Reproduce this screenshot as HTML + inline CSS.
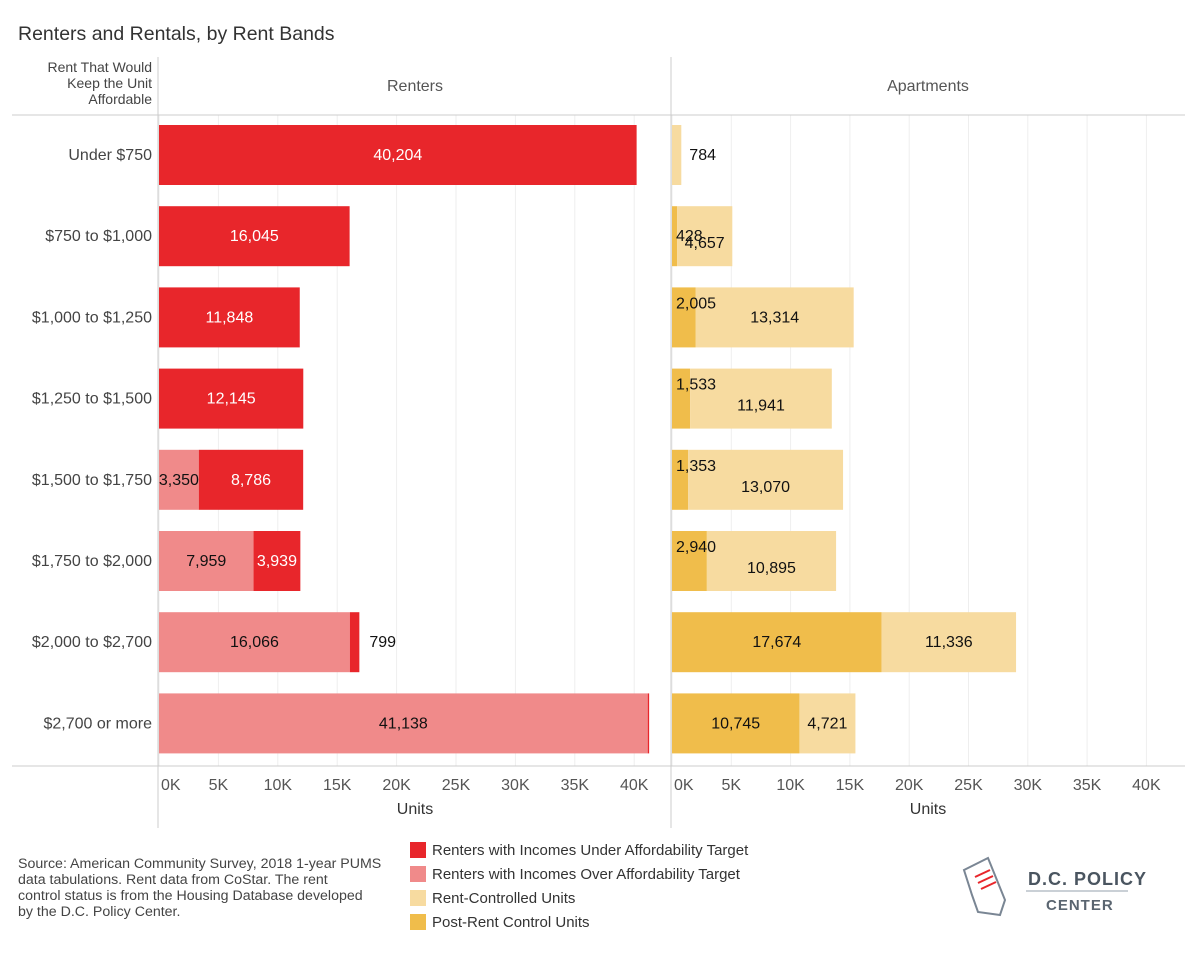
<!DOCTYPE html>
<html><head><meta charset="utf-8"><style>
body{margin:0;background:#fff;font-family:"Liberation Sans",sans-serif;}
svg text{font-family:"Liberation Sans",sans-serif;}
</style></head><body>
<svg id="c" width="1200" height="960" xmlns="http://www.w3.org/2000/svg">
<text x="18" y="40" font-size="19.5" fill="#333">Renters and Rentals, by Rent Bands</text>
<g id="grid"></g>
<g id="bars"></g>
<g id="labels"></g>
<g id="frame" stroke="#ccc" fill="none">
<line x1="158" y1="57" x2="158" y2="828"/><line x1="671" y1="57" x2="671" y2="828"/>
<line x1="12" y1="115" x2="1185" y2="115"/><line x1="12" y1="766" x2="1185" y2="766"/>
</g>
<text x="152" y="72" font-size="14" fill="#444" text-anchor="end"><tspan x="152">Rent That Would</tspan><tspan x="152" dy="16">Keep the Unit</tspan><tspan x="152" dy="16">Affordable</tspan></text>
<text x="415" y="91" font-size="16" fill="#555" text-anchor="middle">Renters</text>
<text x="928" y="91" font-size="16" fill="#555" text-anchor="middle">Apartments</text>
<text x="415" y="814" font-size="16" fill="#333" text-anchor="middle">Units</text>
<text x="928" y="814" font-size="16" fill="#333" text-anchor="middle">Units</text>
<text x="18" y="868" font-size="14.2" fill="#444"><tspan x="18">Source: American Community Survey, 2018 1-year PUMS</tspan><tspan x="18" dy="16">data tabulations. Rent data from CoStar. The rent</tspan><tspan x="18" dy="16">control status is from the Housing Database developed</tspan><tspan x="18" dy="16">by the D.C. Policy Center.</tspan></text>
<g font-size="15" fill="#333">
<rect x="410" y="842" width="16" height="16" fill="#e8262b"/><text x="432" y="855">Renters with Incomes Under Affordability Target</text>
<rect x="410" y="866" width="16" height="16" fill="#f08a8a"/><text x="432" y="879">Renters with Incomes Over Affordability Target</text>
<rect x="410" y="890" width="16" height="16" fill="#f7dba0"/><text x="432" y="903">Rent-Controlled Units</text>
<rect x="410" y="914" width="16" height="16" fill="#f0bd4b"/><text x="432" y="927">Post-Rent Control Units</text>
</g>
<g>
<path d="M964 870 L988 858 L1005 900 L1000 915 L978 912 L972 895 Z" fill="#fff" stroke="#7a8694" stroke-width="2"/>
<line x1="975" y1="877" x2="990" y2="870" stroke="#e8262b" stroke-width="2"/>
<line x1="978" y1="883" x2="993" y2="876" stroke="#e8262b" stroke-width="2"/>
<line x1="981" y1="889" x2="996" y2="882" stroke="#e8262b" stroke-width="2"/>
<text x="1028" y="885" font-size="18" font-weight="bold" fill="#4a5560" letter-spacing="1">D.C. POLICY</text>
<line x1="1026" y1="891" x2="1128" y2="891" stroke="#b8c0c8" stroke-width="1.5"/>
<text x="1046" y="910" font-size="15" font-weight="bold" fill="#5a6570" letter-spacing="1">CENTER</text>
</g>
</svg>
<script>
const bands=["Under $750","$750 to $1,000","$1,000 to $1,250","$1,250 to $1,500","$1,500 to $1,750","$1,750 to $2,000","$2,000 to $2,700","$2,700 or more"];
const rentersOver=[0,0,0,0,3350,7959,16066,41138];
const rentersUnder=[40204,16045,11848,12145,8786,3939,799,120];
const postControl=[0,428,2005,1533,1353,2940,17674,10745];
const rentControlled=[784,4657,13314,11941,13070,10895,11336,4721];
const ticks=[0,5000,10000,15000,20000,25000,30000,35000,40000];
const tickLabels=["0K","5K","10K","15K","20K","25K","30K","35K","40K"];
const NS="http://www.w3.org/2000/svg";
const xR=v=>159+v*0.01188, xA=v=>672+v*0.01186;
const yRow=i=>155+i*81.2;
const fmt=v=>v.toLocaleString("en-US");
const grid=document.getElementById("grid"),bars=document.getElementById("bars"),labels=document.getElementById("labels");
function mk(tag,at,parent,txt){const e=document.createElementNS(NS,tag);for(const k in at)e.setAttribute(k,at[k]);if(txt!==undefined)e.textContent=txt;parent.appendChild(e);return e;}
ticks.forEach((t,i)=>{
  [xR,xA].forEach((f,j)=>{
    const l=mk("line",{x1:f(t),x2:f(t),y1:115,y2:766,stroke:"#eee"},grid);
    
    
    const tx=mk("text",{x:f(t),y:790,"font-size":16,fill:"#555","text-anchor":i==0?"start":"middle"},grid,tickLabels[i]);
    if(i==0)tx.setAttribute("x",f(t)+2);
    
    
  });
});
bands.forEach((b,i)=>{
  const y=yRow(i);
  const lab=mk("text",{x:152,y:y+5,"font-size":16,fill:"#444","text-anchor":"end"},labels,b);
  
  
  const o=rentersOver[i],u=rentersUnder[i];
  if(o>0){
    const r=mk("rect",{x:xR(0),y:y-30,width:xR(o)-xR(0),height:60,fill:"#f08a8a"},bars);
    
    
    const t=mk("text",{x:(xR(0)+xR(o))/2,y:y+5,"font-size":16,"text-anchor":"middle",fill:"#111"},labels,fmt(o));
    
    
  }
  const r2=mk("rect",{x:xR(o),y:y-30,width:xR(o+u)-xR(o),height:60,fill:"#e8262b"},bars);
  
  
  if(u>=500){
    const w=xR(o+u)-xR(o);
    const inside=w>40;
    const t=mk("text",{x:inside?(xR(o)+xR(o+u))/2:xR(o+u)+10,y:y+5,"font-size":16,"text-anchor":inside?"middle":"start",fill:inside?"#fff":"#111"},labels,fmt(u));
    
    
  }
  const p=postControl[i],c=rentControlled[i];
  if(p>0){
    const r=mk("rect",{x:xA(0),y:y-30,width:xA(p)-xA(0),height:60,fill:"#f0bd4b"},bars);
    
    
    const wide=xA(p)-xA(0)>60;
    const t=mk("text",{x:wide?(xA(0)+xA(p))/2:xA(0)+4,y:wide?y+5:y-9,"font-size":16,"text-anchor":wide?"middle":"start",fill:"#111"},labels,fmt(p));
    if(i==1)t.setAttribute("y",y+5);
    
    
  }
  const r3=mk("rect",{x:xA(p),y:y-30,width:xA(p+c)-xA(p),height:60,fill:"#f7dba0"},bars);
  
  
  const w=xA(p+c)-xA(p);
  const t=mk("text",{x:w>40?(xA(p)+xA(p+c))/2:xA(p+c)+8,y:y+5,"font-size":16,"text-anchor":w>40?"middle":"start",fill:"#111"},labels,fmt(c));
  if(p>0&&xA(p)-xA(0)<=60&&w>40&&i!=2)t.setAttribute("y",y+12);
  
  
});
</script>
</body></html>
